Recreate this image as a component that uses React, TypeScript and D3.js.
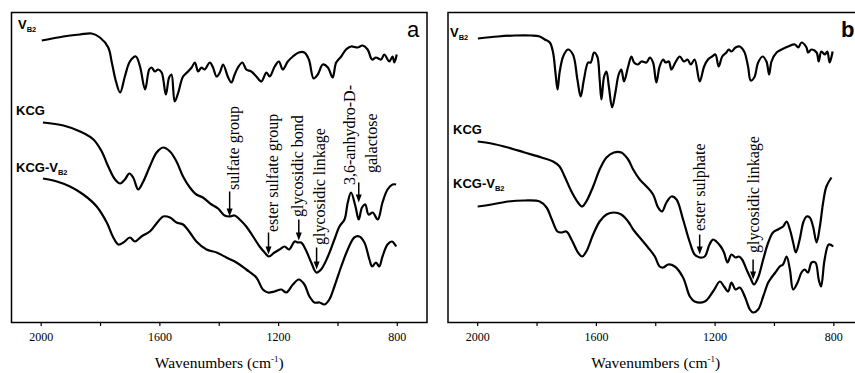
import React from "react";
import * as d3 from "d3";

// FTIR spectra: [wavenumber (cm-1), transmittance (a.u.)]
const vb2A: [number, number][] = [
  [1998, 282], [1925, 286], [1869, 288], [1830, 289], [1802, 285], [1774, 275], [1762, 260],
  [1748, 241], [1734, 230], [1718, 246], [1701, 261], [1681, 266], [1667, 256], [1650, 233],
  [1636, 253], [1628, 255], [1617, 251], [1606, 253], [1594, 250], [1580, 228], [1569, 245],
  [1561, 248], [1550, 221], [1538, 230], [1522, 246], [1505, 251], [1493, 255], [1482, 260],
  [1471, 251], [1460, 255], [1449, 253], [1432, 260], [1421, 255], [1409, 246], [1398, 250],
  [1387, 258], [1370, 245], [1359, 240], [1348, 248], [1337, 255], [1322, 260], [1309, 253],
  [1292, 251], [1275, 246], [1258, 241], [1241, 250], [1230, 246], [1213, 256], [1199, 261],
  [1186, 253], [1169, 261], [1152, 266], [1132, 270], [1113, 270], [1098, 263], [1082, 244],
  [1068, 248], [1051, 258], [1034, 255], [1018, 245], [1006, 260], [989, 266], [973, 273],
  [956, 276], [934, 275], [917, 277], [900, 273], [885, 263], [872, 265], [855, 263],
  [844, 268], [827, 261], [816, 266], [810, 260], [802, 268],
];

const kcgA: [number, number][] = [
  [1994, 200], [1925, 197], [1869, 191], [1824, 183], [1796, 171], [1774, 156], [1751, 143],
  [1734, 139], [1718, 143], [1703, 149], [1690, 145], [1673, 133], [1656, 141], [1634, 156],
  [1611, 170], [1589, 175], [1566, 171], [1544, 161], [1522, 146], [1499, 135], [1477, 128],
  [1455, 125], [1426, 118], [1404, 114], [1382, 107], [1365, 106], [1348, 107], [1331, 103],
  [1309, 96], [1286, 86], [1264, 76], [1247, 70], [1233, 66], [1214, 70], [1197, 73],
  [1180, 76], [1165, 73], [1146, 81], [1135, 80], [1124, 80], [1109, 73], [1090, 60],
  [1073, 50], [1057, 53], [1034, 66], [1012, 83], [995, 96], [978, 103], [967, 120],
  [956, 130], [941, 116], [930, 103], [919, 115], [908, 118], [897, 108], [883, 110],
  [866, 103], [850, 120], [833, 133], [816, 138], [804, 138],
];

const kcgVb2A: [number, number][] = [
  [1994, 144], [1947, 141], [1903, 136], [1858, 128], [1813, 116], [1779, 100], [1757, 85],
  [1740, 78], [1723, 80], [1701, 85], [1684, 81], [1662, 86], [1634, 91], [1606, 101],
  [1589, 106], [1566, 105], [1544, 100], [1522, 98], [1499, 90], [1477, 81], [1443, 73],
  [1409, 70], [1376, 65], [1342, 60], [1309, 53], [1275, 45], [1253, 33], [1236, 30],
  [1214, 31], [1191, 33], [1174, 30], [1152, 38], [1132, 43], [1113, 38], [1096, 26],
  [1079, 20], [1062, 20], [1045, 18], [1029, 23], [1012, 36], [989, 56], [967, 73],
  [945, 85], [928, 86], [911, 80], [894, 63], [885, 56], [872, 60], [861, 56], [850, 66],
  [833, 78], [818, 81], [804, 76],
];

const vb2B: [number, number][] = [
  [1999, 284], [1932, 286], [1875, 287], [1819, 287], [1791, 286], [1774, 283], [1757, 280],
  [1746, 270], [1738, 250], [1731, 233], [1724, 250], [1712, 266], [1696, 273], [1679, 268],
  [1664, 243], [1653, 226], [1642, 243], [1628, 260], [1619, 260], [1608, 270], [1597, 266],
  [1589, 243], [1583, 223], [1574, 246], [1566, 251], [1558, 236], [1547, 215], [1536, 230],
  [1525, 248], [1516, 253], [1507, 241], [1493, 256], [1482, 266], [1473, 260], [1460, 258],
  [1448, 261], [1431, 260], [1420, 265], [1409, 260], [1398, 240], [1387, 256], [1375, 263],
  [1367, 260], [1356, 261], [1347, 253], [1334, 260], [1319, 266], [1305, 261], [1293, 263],
  [1282, 258], [1269, 263], [1252, 241], [1237, 256], [1224, 263], [1210, 266], [1199, 268],
  [1188, 256], [1176, 266], [1162, 270], [1154, 273], [1145, 271], [1131, 275], [1117, 276],
  [1102, 271], [1089, 256], [1080, 242], [1068, 245], [1055, 260], [1040, 266], [1027, 261],
  [1018, 248], [1010, 261], [993, 270], [976, 273], [954, 276], [931, 278], [920, 275],
  [909, 280], [892, 275], [887, 270], [875, 273], [858, 270], [851, 261], [842, 271],
  [830, 268], [822, 271], [814, 260], [804, 271],
];

const kcgB: [number, number][] = [
  [2000, 181], [1954, 179], [1898, 175], [1842, 170], [1785, 165], [1746, 161], [1724, 156],
  [1707, 146], [1684, 131], [1662, 120], [1648, 116], [1634, 121], [1611, 136], [1589, 153],
  [1566, 165], [1541, 170], [1516, 170], [1493, 163], [1476, 153], [1454, 143], [1431, 136],
  [1409, 128], [1392, 115], [1379, 111], [1364, 120], [1347, 126], [1330, 123], [1308, 103],
  [1285, 80], [1269, 68], [1252, 65], [1235, 66], [1219, 78], [1207, 83], [1196, 81],
  [1181, 76], [1170, 70], [1158, 60], [1145, 68], [1131, 65], [1120, 66], [1109, 63],
  [1094, 53], [1080, 44], [1069, 38], [1055, 45], [1038, 63], [1021, 80], [1005, 90],
  [988, 93], [971, 96], [959, 101], [948, 93], [937, 80], [928, 70], [915, 83], [903, 100],
  [892, 106], [881, 105], [870, 96], [858, 80], [847, 96], [836, 120], [825, 136], [808, 145],
];

const kcgVb2B: [number, number][] = [
  [2000, 116], [1954, 118], [1898, 121], [1842, 122], [1791, 121], [1768, 115], [1750, 103],
  [1731, 91], [1718, 90], [1701, 91], [1684, 83], [1662, 70], [1648, 66], [1634, 71],
  [1611, 88], [1589, 101], [1566, 108], [1541, 110], [1516, 108], [1493, 101], [1476, 93],
  [1454, 85], [1426, 75], [1403, 66], [1387, 56], [1375, 55], [1358, 58], [1336, 56],
  [1308, 45], [1285, 26], [1269, 21], [1235, 21], [1207, 31], [1184, 41], [1170, 36],
  [1156, 31], [1145, 40], [1131, 33], [1117, 35], [1100, 26], [1083, 13], [1072, 10],
  [1055, 13], [1038, 26], [1021, 40], [1010, 45], [997, 50], [982, 56], [971, 58],
  [959, 66], [948, 53], [937, 33], [922, 40], [909, 50], [898, 53], [887, 50], [875, 60],
  [862, 60], [851, 43], [843, 36], [831, 63], [817, 78], [802, 76],
];

const xTicks = [2000, 1800, 1600, 1400, 1200, 1000, 800];
const xTickLabels = [2000, 1600, 1200, 800];

// band assignments: label lines, wavenumber, arrow top / tip (a.u.)
const annotA = [
  { lines: ["sulfate group"], wn: 1365, top: 131, tip: 106 },
  { lines: ["ester sulfate group"], wn: 1234, top: 90, tip: 68 },
  { lines: ["glycosidic bond"], wn: 1132, top: 103, tip: 82 },
  { lines: ["glycosidic linkage"], wn: 1072, top: 75, tip: 53 },
  { lines: ["3,6-anhydro-D-", "galactose"], wn: 930, top: 140, tip: 120 },
];
const annotB = [
  { lines: ["ester sulphate"], wn: 1252, top: 88, tip: 68 },
  { lines: ["glycosidic linkage"], wn: 1072, top: 63, tip: 43 },
];

// text placement for each label line: [baseline dx from arrow, start y in px]
const annotPosA = [[[9, 190]], [[9.5, 232]], [[4.5, 217]], [[8, 245]], [[-4, 185], [18, 173]]];
const annotPosB = [[[5.5, 231]], [[5.5, 253]]];

const W = 415.5;
const TOP = 12.5;
const BOTTOM = 322.5;
const SERIF = "'Liberation Serif', 'Times New Roman', serif";
const SANS = "'Liberation Sans', Arial, sans-serif";

type Series = [number, number][];

const Label: React.FC<{ x: number; y: number; main: string; sub?: string; size?: number }> = ({
  x, y, main, sub, size = 13,
}) => (
  <text x={x} y={y} fontFamily={SANS} fontWeight="bold" fontSize={size} fill="#000">
    {main}
    {sub && (
      <tspan dy={3} fontSize={7.5}>
        {sub}
      </tspan>
    )}
  </text>
);

const Panel: React.FC<{
  left: number;
  series: Series[];
  annots: typeof annotA;
  pos: number[][][];
  letter: string;
  letterBold: boolean;
  letterX: number;
  labelY: number[];
  labelX: number[];
}> = ({ left, series, annots, pos, letter, letterBold, letterX, labelY, labelX }) => {
  const x = d3.scaleLinear().domain([2100, 700]).range([left, left + W]);
  const y = d3.scaleLinear().domain([0, 310]).range([BOTTOM, TOP]);
  const line = d3
    .line<[number, number]>()
    .x((d) => x(d[0]))
    .y((d) => y(d[1]))
    .curve(d3.curveCatmullRom.alpha(0.5));

  return (
    <g>
      <rect x={left} y={TOP} width={W} height={BOTTOM - TOP} fill="none" stroke="#000" strokeWidth={1.5} />
      {xTicks.map((t) => (
        <line key={t} x1={x(t)} x2={x(t)} y1={BOTTOM} y2={BOTTOM + 3.5} stroke="#000" strokeWidth={1.2} />
      ))}
      {xTickLabels.map((t) => (
        <text key={t} x={x(t)} y={340.5} textAnchor="middle" fontFamily={SERIF} fontSize={12} fill="#000">
          {t}
        </text>
      ))}
      <text x={left + W / 2} y={368} textAnchor="middle" fontFamily={SERIF} fontSize={15.5} fill="#000">
        Wavenumbers (cm
        <tspan dy={-6} fontSize={9}>-1</tspan>
        <tspan dy={6}>)</tspan>
      </text>

      {series.map((s, i) => (
        <path key={i} d={line(s) || ""} fill="none" stroke="#000" strokeWidth={2.2} strokeLinejoin="round" />
      ))}

      {annots.map((a, i) => {
        const ax = x(a.wn);
        const y0 = y(a.top);
        const y1 = y(a.tip);
        return (
          <g key={i}>
            <line x1={ax} x2={ax} y1={y0} y2={y1 - 6} stroke="#000" strokeWidth={1.5} />
            <polygon points={`${ax - 3},${y1 - 8} ${ax + 3},${y1 - 8} ${ax},${y1}`} fill="#000" />
            {a.lines.map((txt, j) => (
              <text
                key={j}
                transform={`translate(${ax + pos[i][j][0]},${pos[i][j][1]}) rotate(-90)`}
                fontFamily={SERIF}
                fontSize={16}
                fill="#000"
              >
                {txt}
              </text>
            ))}
          </g>
        );
      })}

      <Label x={left + labelX[0]} y={labelY[0]} main="V" sub="B2" />
      <Label x={left + labelX[1]} y={labelY[1]} main="KCG" />
      <Label x={left + labelX[2]} y={labelY[2]} main="KCG-V" sub="B2" />
      <text
        x={letterX}
        y={37}
        fontFamily={SANS}
        fontWeight={letterBold ? "bold" : "normal"}
        fontSize={22}
        fill="#000"
      >
        {letter}
      </text>
    </g>
  );
};

export default function App() {
  return (
    <div style={{ position: "absolute", left: 0, top: 0 }}>
      <svg width={855} height={373} style={{ display: "block", background: "#fff" }}>
        <Panel
          left={11.5}
          series={[vb2A, kcgA, kcgVb2A]}
          annots={annotA}
          pos={annotPosA}
          letter="a"
          letterBold={false}
          letterX={407}
          labelX={[6.5, 4.5, 4.5]}
          labelY={[28.5, 114.5, 171.5]}
        />
        <Panel
          left={448}
          series={[vb2B, kcgB, kcgVb2B]}
          annots={annotB}
          pos={annotPosB}
          letter="b"
          letterBold={true}
          letterX={841}
          labelX={[2, 5, 5]}
          labelY={[36.5, 134, 187.5]}
        />
      </svg>
    </div>
  );
}
